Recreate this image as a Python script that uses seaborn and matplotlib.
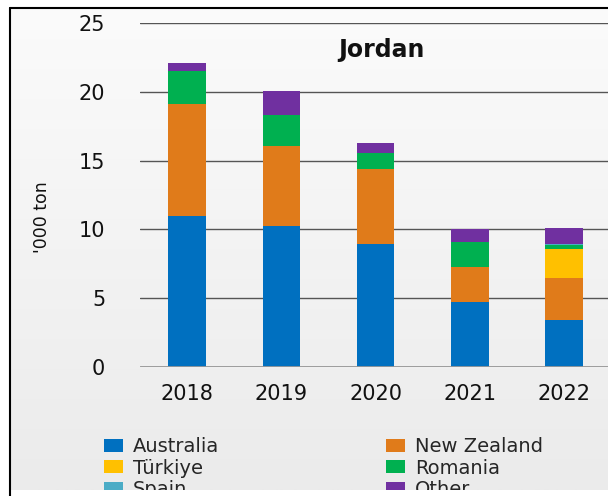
import numpy as np
import pandas as pd
import matplotlib
matplotlib.use("Agg")
import matplotlib.pyplot as plt
import seaborn as sns
from matplotlib.patches import Patch, Rectangle
from matplotlib.lines import Line2D

years = ["2018", "2019", "2020", "2021", "2022"]
australia = [11.0, 10.25, 8.95, 4.75, 3.45]
new_zealand = [8.1, 5.8, 5.45, 2.55, 3.05]
turkiye = [0.0, 0.0, 0.0, 0.0, 2.1]
romania = [2.4, 2.25, 1.15, 1.8, 0.25]
spain = [0.0, 0.0, 0.0, 0.0, 0.08]
other = [0.6, 1.75, 0.75, 0.9, 1.17]

series = ["Australia", "New Zealand", "Türkiye", "Romania", "Spain", "Other"]
values = [australia, new_zealand, turkiye, romania, spain, other]
colors = ["#0070C0", "#E07B1A", "#FFC000", "#00B050", "#4BACC6", "#7030A0"]

sns.set_style("white")
plt.rcParams["font.family"] = ["DejaVu Sans"]

W, H = 608, 496
fig = plt.figure(figsize=(W / 100, H / 100), dpi=100)
fig.patch.set_facecolor("white")

# background gradient box
bg = fig.add_axes([10 / W, 6 / H, 598 / W, 482 / H], zorder=-5)
grad = np.linspace(0, 1, 256).reshape(-1, 1)
bg.imshow(grad, aspect="auto", cmap=matplotlib.colors.LinearSegmentedColormap.from_list(
    "g", ["#fbfbfb", "#ebebeb"]), extent=[0, 1, 0, 1], origin="upper")
bg.set_axis_off()

ax = fig.add_axes([140 / W, (H - 367) / H, 471.25 / W, 344 / H])
ax.patch.set_alpha(0)

df = pd.DataFrame({"year": years})
cum = np.zeros(len(years))
cums = []
for v in values:
    cum = cum + np.array(v)
    cums.append(cum.copy())

for name, c, col in reversed(list(zip(series, cums, colors))):
    sns.barplot(x=df["year"], y=c, color=col, width=0.4, linewidth=0,
                saturation=1, ax=ax, zorder=3)

ax.set_ylim(0, 25)
ax.set_xlim(-0.5, 4.5)
ax.set_yticks([0, 5, 10, 15, 20, 25])
ax.yaxis.grid(True, color="#555555", linewidth=1)
ax.set_axisbelow(True)
for s in ax.spines.values():
    s.set_visible(False)
ax.axhline(0, color="#999999", linewidth=2, zorder=4)
ax.tick_params(axis="y", length=0, pad=25, labelsize=15, labelcolor="#111111")
ax.tick_params(axis="x", length=0, pad=12, labelsize=15, labelcolor="#111111")
ax.set_xlabel("")
ax.set_ylabel("")

fig.text(42 / W, 1 - 217 / H, "'000 ton", rotation=90, ha="center", va="center",
         fontsize=12.5, color="#111111")
fig.text(381 / W, 1 - 50 / H, "Jordan", ha="center", va="center",
         fontsize=17, fontweight="bold", color="#111111")

order = [0, 2, 4, 1, 3, 5]
handles = [Patch(facecolor=colors[i], edgecolor="none") for i in order]
labels = [series[i] for i in order]
fig.legend(handles, labels, ncol=2, loc="upper left",
           bbox_to_anchor=(104 / W, 1 - 437 / H), frameon=False,
           fontsize=14, handlelength=1.0, handleheight=0.65,
           handletextpad=0.5, columnspacing=8.55, labelspacing=0.13,
           borderpad=0, borderaxespad=0)

# white strip at bottom (clipping) and frame lines
fig.add_artist(Rectangle((0, 0), 1, 6 / H, transform=fig.transFigure,
                         facecolor="white", edgecolor="none", zorder=20))
fig.add_artist(Line2D([10 / W, 10 / W], [0, 1 - 8 / H], transform=fig.transFigure,
                      color="black", linewidth=1.5, zorder=21))
fig.add_artist(Line2D([10 / W, 1], [1 - 8 / H, 1 - 8 / H], transform=fig.transFigure,
                      color="black", linewidth=1.5, zorder=21))

fig.savefig("out.png", dpi=100)
